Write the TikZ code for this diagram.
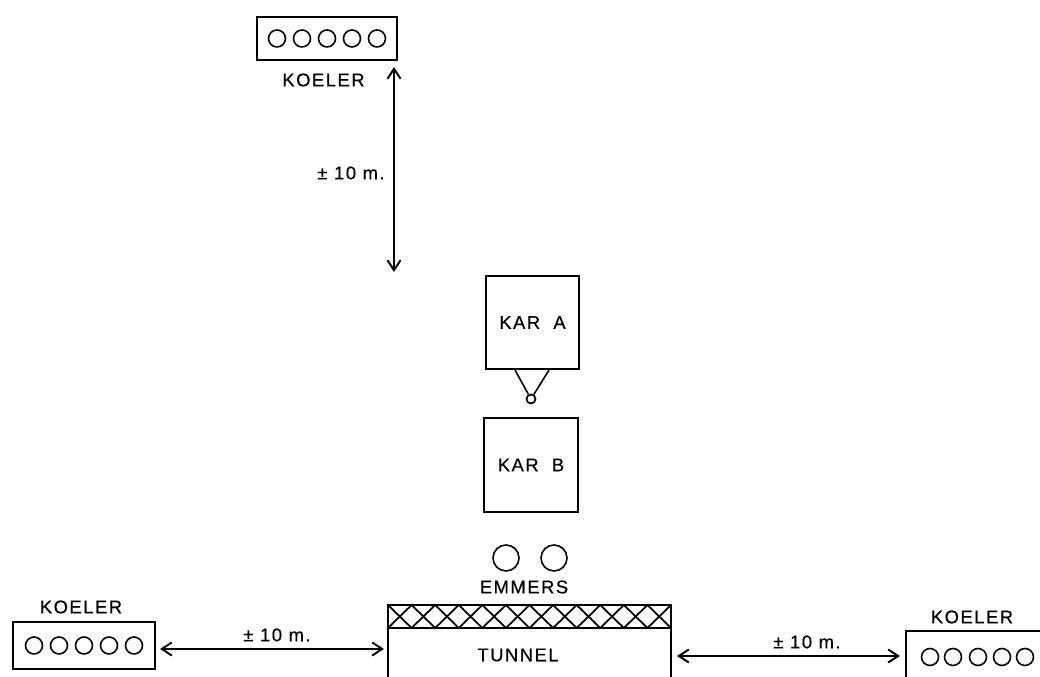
\documentclass[tikz,border=0pt]{standalone}
\usepackage{fontspec}
\setmainfont{Liberation Sans}
\usepackage{tikz}
\usetikzlibrary{arrows.meta, positioning}
\tikzset{
  lab/.style={font=\fontsize{10.5}{12}\selectfont\addfontfeature{LetterSpace=8,FakeBold=0.4}, inner sep=0pt},
  koelerbox/.style={draw, line width=1.2pt, inner sep=0pt},
  dist/.style={{Straight Barb[length=2mm,width=2.6mm]}-{Straight Barb[length=2mm,width=2.6mm]}, line width=1.1pt},
}
\begin{document}
\begin{tikzpicture}
  \useasboundingbox (0,0) rectangle (20.8,13.54);
  % top cooler
  \node[koelerbox, minimum width=2.8cm, minimum height=0.86cm] (koelertop) at (6.54,12.77) {};
  \foreach \x in {-1,-0.5,0,0.5,1} \draw[line width=0.9pt] ([xshift=\x cm]koelertop.center) circle (0.17);
  \node[lab] (koelertoplab) at (6.47,11.94) {KOELER};
  \coordinate (topa) at (7.88,12.2);
  \coordinate (topb) at (7.88,8.1);
  \draw[dist] (topa) -- (topb);
  \node[lab] (disttop) at (7.02,10.08) {± 10 m.};
  % carts
  \node[draw, line width=1.2pt, lab, minimum size=1.86cm] (kara) at (10.65,7.09) {KAR\ \ A};
  \node[draw, line width=1.2pt, lab, minimum size=1.88cm] (karb) at (10.62,4.24) {KAR\ \ B};
  \node[draw, circle, line width=1pt, inner sep=0pt, minimum size=0.18cm] (hitch) at (10.62,5.56) {};
  \draw[line width=0.9pt] ([xshift=-0.35cm]kara.south) -- (hitch);
  \draw[line width=0.9pt] ([xshift=0.33cm]kara.south) -- (hitch);
  % buckets
  \node[draw, circle, line width=0.9pt, inner sep=0pt, minimum size=0.52cm] (emmera) at (10.12,2.38) {};
  \node[draw, circle, line width=0.9pt, inner sep=0pt, minimum size=0.52cm] (emmerb) at (11.08,2.38) {};
  \node[lab] (emmerslab) at (10.48,1.80) {EMMERS};
  % tunnel, open at the bottom
  \draw[line width=1.2pt] (7.76,0) -- (7.76,1.44) -- (13.42,1.44) -- (13.42,0);
  \draw[line width=1.2pt] (7.76,0.98) -- (13.42,0.98);
  \foreach \i in {0,...,11} {
    \begin{scope}[xshift=\i*0.4717cm]
      \draw[line width=1pt] (7.76,1.44) -- (8.2317,0.98);
      \draw[line width=1pt] (8.2317,1.44) -- (7.76,0.98);
    \end{scope}
  }
  \node[lab] (tunnellab) at (10.36,0.44) {TUNNEL};
  % left cooler
  \node[koelerbox, minimum width=2.84cm, minimum height=0.94cm] (koelerleft) at (1.68,0.63) {};
  \foreach \x in {-1,-0.5,0,0.5,1} \draw[line width=0.9pt] ([xshift=\x cm]koelerleft.center) circle (0.17);
  \node[lab] (koelerleftlab) at (1.62,1.40) {KOELER};
  \coordinate (tunnelleft) at (7.68,0.56);
  \coordinate (leftend) at (3.2,0.56);
  \draw[dist] (leftend) -- (tunnelleft);
  \node[lab] (distleft) at (5.54,0.84) {± 10 m.};
  % right cooler, runs off the page
  \draw[line width=1.2pt] (18.12,0) -- (18.12,0.92) -- (20.8,0.92);
  \foreach \x in {18.6,19.06,19.56,20.04,20.5} \draw[line width=0.9pt] (\x,0.40) circle (0.17);
  \node[lab] (koelerrightlab) at (19.44,1.20) {KOELER};
  \coordinate (tunnelright) at (13.54,0.42);
  \coordinate (rightend) at (18,0.42);
  \draw[dist] (tunnelright) -- (rightend);
  \node[lab] (distright) at (16.14,0.70) {± 10 m.};
\end{tikzpicture}
\end{document}
